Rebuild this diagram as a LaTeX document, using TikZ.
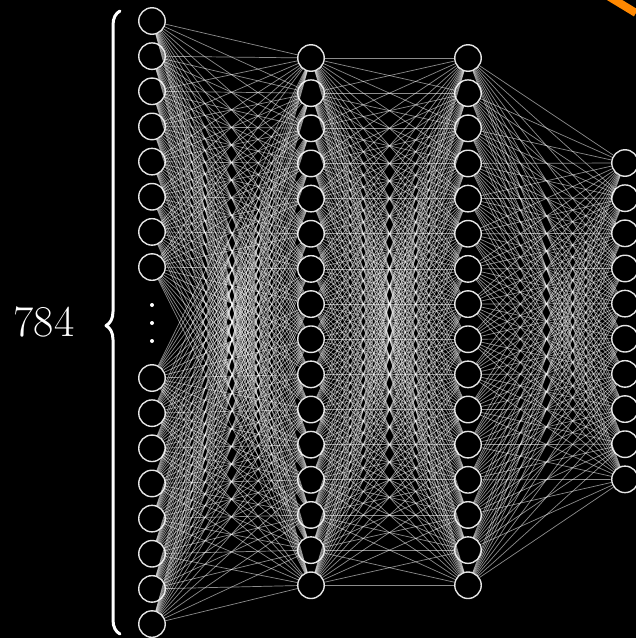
\documentclass[tikz,border=0pt]{standalone}
\usepackage{tikz}
\usetikzlibrary{decorations.pathreplacing}

\definecolor{markorange}{RGB}{255,136,0}

\begin{document}
\begin{tikzpicture}[x=1pt, y=-1pt, line cap=round, line join=round,
  neuron/.style={circle, draw=white!90!black, line width=1.4pt, fill=black,
    minimum size=26.5pt, inner sep=0pt},
  weight/.style={draw=white, opacity=0.55, line width=0.7pt}]
% ---------- parameters ----------
\def\xin{152}     % input layer
\def\xha{311}     % first hidden layer
\def\xhb{468}     % second hidden layer
\def\xout{625}    % output layer
\def\dy{35.15}    % neuron spacing

% ---------- canvas ----------
\clip (0,0) rectangle (636,638);
\fill[black] (0,0) rectangle (636,638);

% ---------- layers ----------
\foreach \k in {1,...,8} {
  \node[neuron] (in\k) at (\xin,{21+(\k-1)*\dy}) {};
  \node[neuron] (in\the\numexpr\k+8\relax) at (\xin,{378+(\k-1)*\dy}) {};
}
\foreach \k in {1,...,16} {
  \node[neuron] (ha\k) at (\xha,{58+(\k-1)*\dy}) {};
  \node[neuron] (hb\k) at (\xhb,{58+(\k-1)*\dy}) {};
}
\foreach \k in {1,...,10}
  \node[neuron] (out\k) at (\xout,{163+(\k-1)*\dy}) {};

% skipped inputs
\foreach \y in {305,323,341}
  \fill[white] (\xin,\y) circle (2pt);

% ---------- weights ----------
\foreach \i in {1,...,16} {
  \foreach \j in {1,...,16} {
    \draw[weight] (in\i) -- (ha\j);
    \draw[weight] (ha\i) -- (hb\j);
  }
  \foreach \j in {1,...,10}
    \draw[weight] (hb\i) -- (out\j);
}

% ---------- input count ----------
\draw[white, line width=3pt, decorate,
  decoration={brace, amplitude=14pt, aspect=0.495}] (120,634) -- (120,11);
\node[white, font=\fontsize{44}{52}\selectfont] (count) at (44,322) {784};

% corner mark
\draw[markorange, line width=8pt, line cap=butt] (608,-4) -- (636,13);

\end{tikzpicture}
\end{document}
